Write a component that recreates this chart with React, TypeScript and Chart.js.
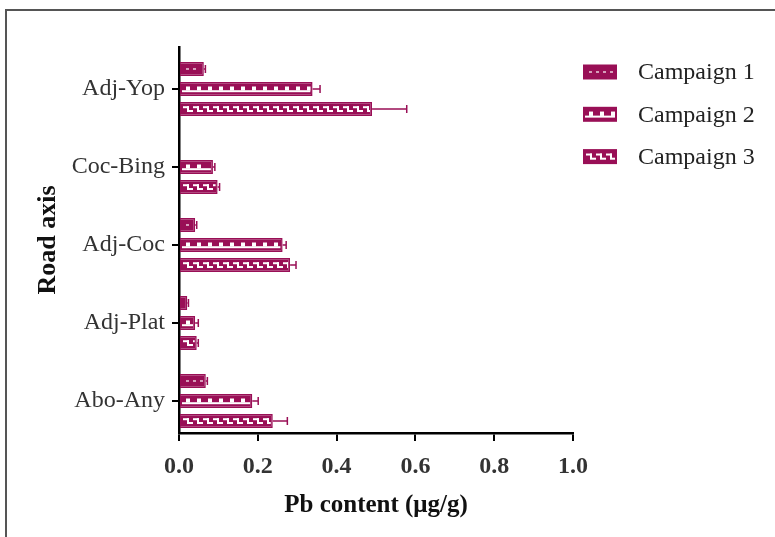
import React, { useEffect, useRef } from "react";
import { Chart, registerables } from "chart.js";

Chart.register(...registerables);

const categories = ["Adj-Yop", "Coc-Bing", "Adj-Coc", "Adj-Plat", "Abo-Any"];
const seriesNames = ["Campaign 1", "Campaign 2", "Campaign 3"];
const campaign1 = [0.063, 0, 0.041, 0.021, 0.068];
const campaign2 = [0.339, 0.086, 0.263, 0.041, 0.186];
const campaign3 = [0.49, 0.098, 0.282, 0.045, 0.238];
const campaign1Err = [0.004, 0, 0.004, 0.003, 0.004];
const campaign2Err = [0.019, 0.005, 0.009, 0.008, 0.015];
const campaign3Err = [0.088, 0.005, 0.015, 0.004, 0.037];
const xTickValues = [0, 0.2, 0.4, 0.6, 0.8, 1.0];

const FILL = "#990f56";
const FONT = "'Liberation Serif', 'Times New Roman', serif";

function drawPattern(ctx: CanvasRenderingContext2D, kind: number, l: number, t: number, w: number, h: number) {
  if (w <= 0 || h <= 0) return;
  ctx.save();
  ctx.beginPath();
  ctx.rect(l, t, w, h);
  ctx.clip();
  if (kind === 0) {
    ctx.fillStyle = "rgba(255,255,255,0.6)";
    for (let x = l + 4; x < l + w - 3; x += 7) ctx.fillRect(x, t + h / 2 - 1, 3, 2);
  } else if (kind === 1) {
    ctx.fillStyle = "#ffffff";
    ctx.fillRect(l, t + h * 0.62, w, 2);
    for (let x = l + 4; x < l + w - 3; x += 11) ctx.fillRect(x, t + h * 0.25, 4, h * 0.4);
  } else {
    ctx.fillStyle = "#ffffff";
    for (let x = l + 1; x < l + w; x += 10) {
      ctx.fillRect(x, t + h * 0.22, 6, 2);
      ctx.fillRect(x + 4, t + h * 0.22, 2, h * 0.5);
      ctx.fillRect(x + 4, t + h * 0.6, 6, 2);
    }
  }
  ctx.restore();
}

// Category band spans slightly below the x-axis line, as in the reference figure
const categoryRangePlugin = {
  id: "categoryRange",
  afterLayout(chart: any) {
    const y = chart.scales.y;
    const area = chart.chartArea;
    const t = y.top;
    const b = y.bottom;
    y.top = area.top + 3;
    y.bottom = area.bottom + 7;
    y.configure();
    y.top = t;
    y.bottom = b;
  },
};

const patternPlugin = {
  id: "patternOverlay",
  afterDatasetsDraw(chart: any) {
    const ctx = chart.ctx as CanvasRenderingContext2D;
    chart.data.datasets.forEach((ds: any, i: number) => {
      const meta = chart.getDatasetMeta(i);
      meta.data.forEach((el: any) => {
        const left = Math.min(el.base, el.x);
        const right = Math.max(el.base, el.x);
        const top = el.y - el.height / 2;
        drawPattern(ctx, i, left + 2, top + 2, right - left - 4, el.height - 4);
      });
    });
  },
};

const errorPlugin = {
  id: "errorBars",
  afterDatasetsDraw(chart: any) {
    const ctx = chart.ctx as CanvasRenderingContext2D;
    const xs = chart.scales.x;
    chart.data.datasets.forEach((ds: any, i: number) => {
      const meta = chart.getDatasetMeta(i);
      meta.data.forEach((el: any, j: number) => {
        const v = ds.data[j];
        const e = ds.errors[j];
        if (!e) return;
        const x0 = xs.getPixelForValue(v);
        const x1 = xs.getPixelForValue(v + e);
        ctx.save();
        ctx.strokeStyle = FILL;
        ctx.lineWidth = 1.5;
        ctx.beginPath();
        ctx.moveTo(x0, el.y);
        ctx.lineTo(x1, el.y);
        ctx.moveTo(x1, el.y - 4);
        ctx.lineTo(x1, el.y + 4);
        ctx.stroke();
        ctx.restore();
      });
    });
  },
};

const legendPlugin = {
  id: "customLegend",
  afterDraw(chart: any) {
    const ctx = chart.ctx as CanvasRenderingContext2D;
    const area = chart.chartArea;
    chart.data.datasets.forEach((ds: any, i: number) => {
      const cy = area.top + 25 + i * 42.3;
      const sx = area.right + 10;
      const sw = 34;
      const sh = 15;
      ctx.save();
      ctx.fillStyle = FILL;
      ctx.fillRect(sx, cy - sh / 2, sw, sh);
      drawPattern(ctx, i, sx + 2, cy - sh / 2 + 2, sw - 4, sh - 4);
      ctx.fillStyle = "#222";
      ctx.font = `24px ${FONT}`;
      ctx.textBaseline = "middle";
      ctx.textAlign = "left";
      ctx.fillText(ds.label, area.right + 65, cy + 1);
      ctx.restore();
    });
  },
};

export default function App() {
  const ref = useRef<HTMLCanvasElement | null>(null);
  useEffect(() => {
    if (!ref.current) return;
    const values = [campaign1, campaign2, campaign3];
    const errs = [campaign1Err, campaign2Err, campaign3Err];
    const chart = new Chart(ref.current, {
      type: "bar",
      data: {
        labels: categories,
        datasets: seriesNames.map((name, i) => ({
          label: name,
          data: values[i],
          errors: errs[i],
          backgroundColor: FILL,
          borderColor: FILL,
          borderWidth: 1.5,
          barPercentage: 0.7,
          categoryPercentage: 0.77,
        })) as any,
      },
      options: {
        indexAxis: "y",
        animation: false,
        responsive: false,
        layout: { padding: { top: 47, right: 202, left: 0, bottom: 0 } },
        plugins: { legend: { display: false }, tooltip: { enabled: false } },
        scales: {
          x: {
            type: "linear",
            min: 0,
            max: 1,
            afterFit: (s: any) => {
              s.height = 104;
            },
            afterBuildTicks: (s: any) => {
              s.ticks = xTickValues.map((v) => ({ value: v }));
            },
            ticks: {
              padding: 11,
              color: "#333",
              font: { family: FONT, size: 24, weight: "bold" },
              callback: (v: any) => Number(v).toFixed(1),
            },
            grid: { drawOnChartArea: false, drawTicks: true, tickLength: 8, color: "#000", lineWidth: 2 },
            border: { color: "#000", width: 2.5 },
            title: {
              display: true,
              text: "Pb content (μg/g)",
              color: "#111",
              font: { family: FONT, size: 25, weight: "bold" },
              padding: { top: 0, bottom: 16 },
            },
          },
          y: {
            type: "category",
            afterFit: (s: any) => {
              s.width = 179;
            },
            ticks: {
              padding: 7,
              color: "#333",
              font: { family: FONT, size: 24 },
            },
            grid: { offset: false, drawOnChartArea: false, drawTicks: true, tickLength: 7, color: "#000", lineWidth: 2 },
            border: { color: "#000", width: 2.5 },
            title: {
              display: true,
              text: "Road axis",
              color: "#111",
              font: { family: FONT, size: 26, weight: "bold" },
              padding: { top: 33, bottom: 0 },
            },
          },
        },
      } as any,
      plugins: [categoryRangePlugin, patternPlugin, errorPlugin, legendPlugin],
    });
    return () => chart.destroy();
  }, []);

  return (
    <div style={{ position: "fixed", left: 0, top: 0, width: 775, height: 537, overflow: "hidden", background: "#fff" }}>
      <canvas ref={ref} width={775} height={537} style={{ display: "block" }} />
      <div
        style={{
          position: "absolute",
          left: 5,
          top: 9,
          width: 800,
          height: 600,
          borderTop: "2px solid #555",
          borderLeft: "2px solid #555",
          pointerEvents: "none",
        }}
      />
    </div>
  );
}
